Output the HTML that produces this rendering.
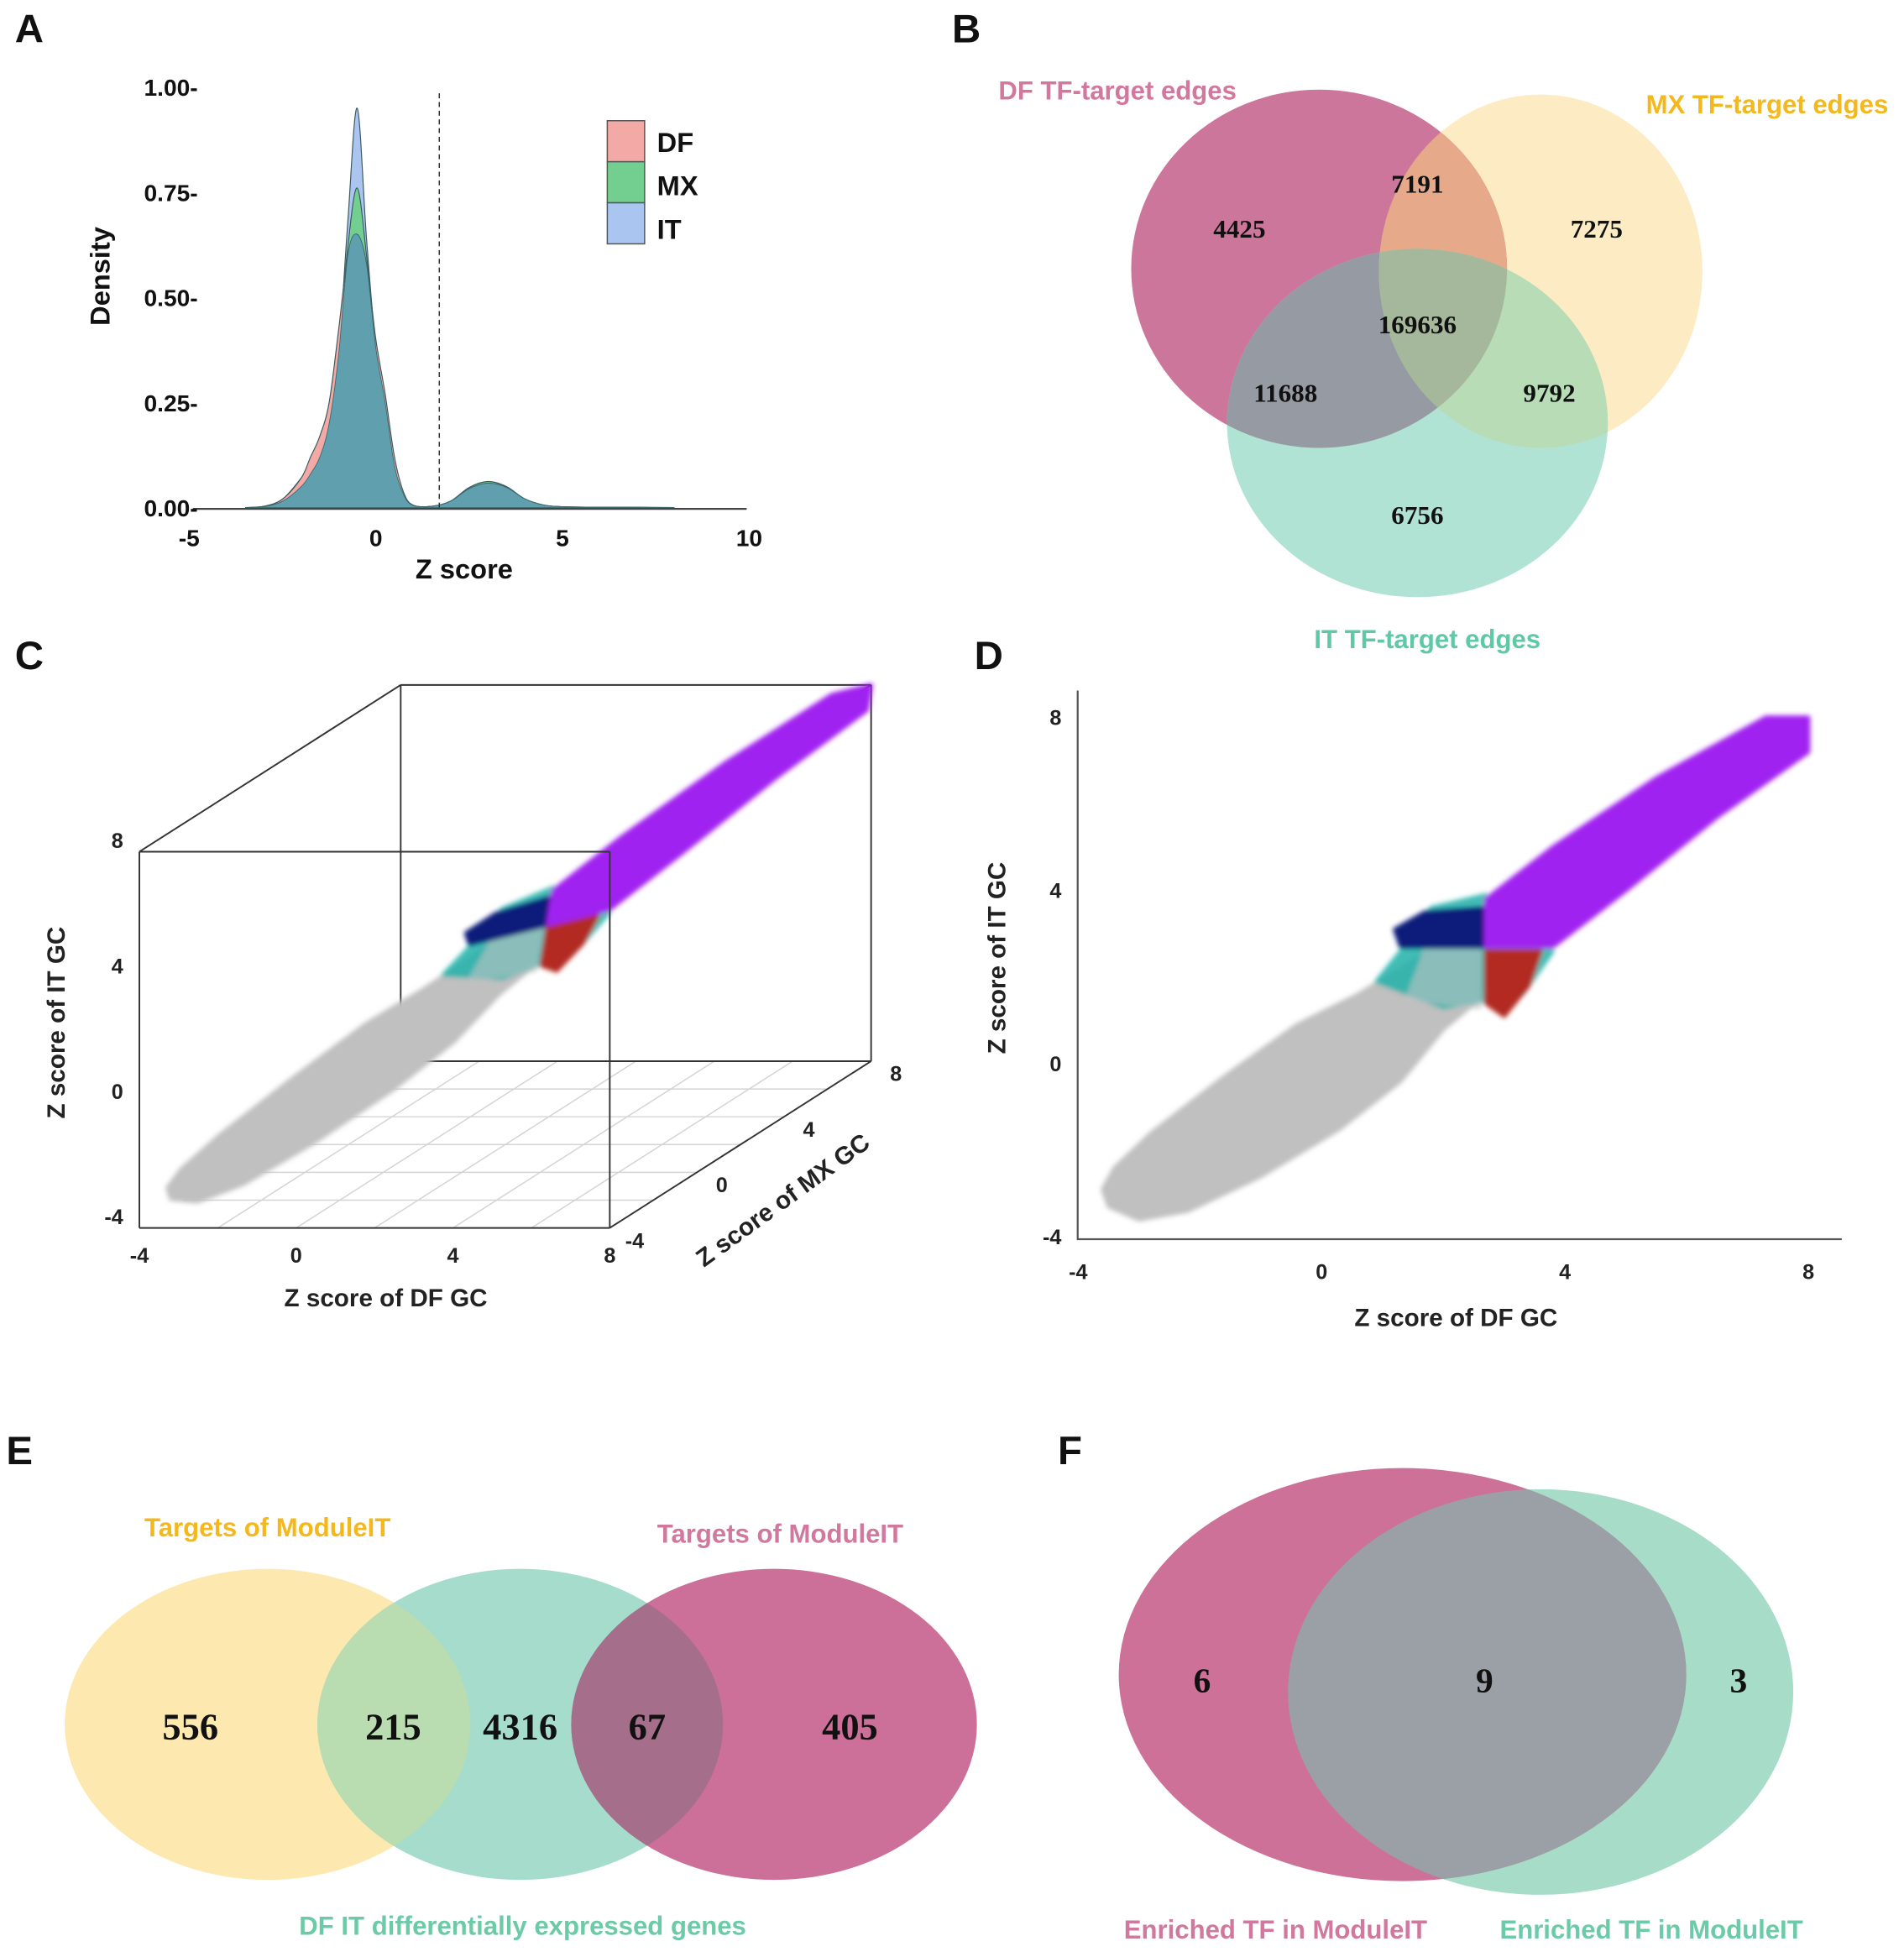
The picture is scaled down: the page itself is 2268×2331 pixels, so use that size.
<!DOCTYPE html>
<html><head><meta charset="utf-8">
<style>
html,body{margin:0;padding:0;background:#fff;}
svg{display:block;}
.lab{font-family:"Liberation Sans",sans-serif;font-weight:bold;}
.num{font-family:"Liberation Serif",serif;font-weight:bold;fill:#111;}
</style></head>
<body>
<svg id="fig" xmlns="http://www.w3.org/2000/svg" width="2268" height="2331" viewBox="0 0 1530 1573" preserveAspectRatio="none">
<defs>
<clipPath id="cDF"><ellipse cx="1060" cy="216" rx="151" ry="144"/></clipPath>
<clipPath id="cMX"><ellipse cx="1238" cy="218" rx="130" ry="142"/></clipPath>
<clipPath id="cIT"><ellipse cx="1139" cy="340" rx="153" ry="140"/></clipPath>
<clipPath id="cEY"><ellipse cx="215" cy="1386" rx="163" ry="125"/></clipPath>
<clipPath id="cET"><ellipse cx="418" cy="1386" rx="163" ry="125"/></clipPath>
<clipPath id="cFT"><ellipse cx="1238" cy="1360" rx="203" ry="163"/></clipPath>
<filter id="fuzz" x="-10%" y="-10%" width="120%" height="120%"><feGaussianBlur stdDeviation="2"/></filter>
</defs>

<g class="lab" font-size="32" fill="#111">
<text x="12" y="34">A</text>
<text x="765" y="34">B</text>
<text x="12" y="538">C</text>
<text x="783" y="538">D</text>
<text x="5" y="1177">E</text>
<text x="850" y="1177">F</text>
</g>

<g id="panelA"></g>

<g>
<ellipse cx="1238" cy="218" rx="130" ry="142" fill="#fdecc3"/>
<ellipse cx="1060" cy="216" rx="151" ry="144" fill="#cd769c"/>
<g clip-path="url(#cDF)"><ellipse cx="1238" cy="218" rx="130" ry="142" fill="#e6a98a"/></g>
<ellipse cx="1139" cy="340" rx="153" ry="140" fill="#b0e3d3"/>
<g clip-path="url(#cIT)"><ellipse cx="1060" cy="216" rx="151" ry="144" fill="#969aa2"/></g>
<g clip-path="url(#cIT)"><ellipse cx="1238" cy="218" rx="130" ry="142" fill="#b7dcb6"/></g>
<g clip-path="url(#cIT)"><g clip-path="url(#cDF)"><ellipse cx="1238" cy="218" rx="130" ry="142" fill="#a6b89b"/></g></g>
<g class="num" font-size="21" text-anchor="middle">
<text x="996" y="191">4425</text>
<text x="1139" y="155">7191</text>
<text x="1283" y="191">7275</text>
<text x="1139" y="268">169636</text>
<text x="1033" y="323">11688</text>
<text x="1245" y="323">9792</text>
<text x="1139" y="421">6756</text>
</g>
<g class="lab" font-size="21" text-anchor="middle">
<text x="898" y="80" fill="#d0789e">DF TF-target edges</text>
<text x="1420" y="91" fill="#f2b81e">MX TF-target edges</text>
<text x="1147" y="521" fill="#5fc8a5">IT TF-target edges</text>
</g>
</g>

<g id="panelC"></g>
<g id="panelD"></g>

<g>
<ellipse cx="215" cy="1386" rx="163" ry="125" fill="#fde8b0"/>
<ellipse cx="418" cy="1386" rx="163" ry="125" fill="#a6dccb"/>
<g clip-path="url(#cEY)"><ellipse cx="418" cy="1386" rx="163" ry="125" fill="#b9dcb0"/></g>
<ellipse cx="622" cy="1386" rx="163" ry="125" fill="#cc7099"/>
<g clip-path="url(#cET)"><ellipse cx="622" cy="1386" rx="163" ry="125" fill="#a56e8a"/></g>
<g class="num" font-size="30" text-anchor="middle">
<text x="153" y="1398">556</text>
<text x="316" y="1398">215</text>
<text x="418" y="1398">4316</text>
<text x="520" y="1398">67</text>
<text x="683" y="1398">405</text>
</g>
<g class="lab" font-size="21" text-anchor="middle">
<text x="215" y="1235" fill="#f5b81c">Targets of ModuleIT</text>
<text x="627" y="1240" fill="#d0789e">Targets of ModuleIT</text>
<text x="420" y="1555" fill="#6ccaa8">DF IT differentially expressed genes</text>
</g>
</g>

<g>
<ellipse cx="1238" cy="1360" rx="203" ry="163" fill="#a7dcc8"/>
<ellipse cx="1127" cy="1346" rx="228" ry="166" fill="#cd7199"/>
<g clip-path="url(#cFT)"><ellipse cx="1127" cy="1346" rx="228" ry="166" fill="#9aa0a5"/></g>
<g class="num" font-size="28" text-anchor="middle">
<text x="966" y="1360">6</text>
<text x="1193" y="1360">9</text>
<text x="1397" y="1360">3</text>
</g>
<g class="lab" font-size="21" text-anchor="middle">
<text x="1025" y="1558" fill="#d0789e">Enriched TF in ModuleIT</text>
<text x="1327" y="1558" fill="#6ccaa8">Enriched TF in ModuleIT</text>
</g>
</g>
</svg>

<script>
// ---- Panel A data ----
const zGrid = [-3.5,-3,-2.5,-2,-1.75,-1.5,-1.25,-1,-0.75,-0.5,-0.25,0,0.25,0.5,0.75,1,1.5,2,2.5,3,3.5,4,4.5,5,6,7,8];
const densIT = [0,0.002,0.015,0.05,0.08,0.12,0.2,0.36,0.68,0.95,0.64,0.38,0.25,0.1,0.03,0.005,0.003,0.015,0.045,0.058,0.048,0.02,0.006,0.002,0.001,0.0005,0];
const densMX = [0,0.003,0.02,0.07,0.1,0.14,0.22,0.38,0.62,0.76,0.6,0.38,0.25,0.1,0.03,0.005,0.003,0.015,0.048,0.062,0.05,0.02,0.006,0.002,0.001,0.0005,0];
const densDF = [0,0.003,0.02,0.07,0.12,0.17,0.25,0.42,0.6,0.65,0.58,0.4,0.27,0.12,0.035,0.006,0.003,0.015,0.045,0.058,0.048,0.02,0.006,0.002,0.001,0.0005,0];
const xTicksA = [-5,0,5,10];
const yTicksA = [0,0.25,0.5,0.75,1];
const yTickLabA = ["0.00","0.25","0.50","0.75","1.00"];
const cutoffZ = 1.7;
const legendA = ["DF","MX","IT"];

// ---- Panels C/D data (cluster outlines in (DF GC, IT GC) z-score coords) ----
const grayCloudDF = [-3.6,-3.5,-3.0,-2.2,-1.0,0.3,1.3,2.0,2.6,2.8,2.2,1.3,0.6,-0.4,-1.6,-2.8,-3.4];
const grayCloudIT = [-2.9,-3.3,-3.6,-3.4,-2.6,-1.5,-0.4,0.8,1.5,2.6,3.0,2.2,1.6,0.9,-0.3,-1.6,-2.4];
const tealDF = [0.9,2.0,3.3,3.8,3.3,2.7,1.8,1.3];
const tealIT = [1.9,1.3,1.6,2.6,3.3,3.9,3.6,2.6];
const grayPatchDF = [1.4,2.6,2.6,1.7];
const grayPatchIT = [1.5,1.3,2.6,2.6];
const navyDF = [1.3,2.7,2.7,1.7,1.2];
const navyIT = [2.7,2.7,3.6,3.5,3.1];
const redDF = [2.7,3.6,3.4,3.0,2.7];
const redIT = [2.6,2.6,1.8,1.1,1.4];
const purpleDF = [2.7,3.8,5,6.5,8,8,7.3,5.5,3.8,2.7];
const purpleIT = [2.7,2.7,4,5.7,7.2,8,8,6.6,5,3.8];
const axisTicks = [-4,0,4,8];

const NS = "http://www.w3.org/2000/svg";
function mk(parent, tag, attrs){ const e=document.createElementNS(NS,tag); for(const k in attrs) e.setAttribute(k,attrs[k]); parent.appendChild(e); return e; }
function smooth(pts){ // catmull-rom
  let d="M"+pts[0][0].toFixed(1)+","+pts[0][1].toFixed(1);
  for(let i=0;i<pts.length-1;i++){
    const p0=pts[Math.max(0,i-1)],p1=pts[i],p2=pts[i+1],p3=pts[Math.min(pts.length-1,i+2)];
    const c1=[p1[0]+(p2[0]-p0[0])/6,p1[1]+(p2[1]-p0[1])/6], c2=[p2[0]-(p3[0]-p1[0])/6,p2[1]-(p3[1]-p1[1])/6];
    d+=" C"+c1[0].toFixed(1)+","+c1[1].toFixed(1)+" "+c2[0].toFixed(1)+","+c2[1].toFixed(1)+" "+p2[0].toFixed(1)+","+p2[1].toFixed(1);
  }
  return d;
}

(function(){
  const g=document.getElementById('panelA');
  const X=z=>152+(z+5)*30, Y=d=>408-d*338;
  const area=vals=>smooth(zGrid.map((z,i)=>[X(z),Math.min(408,Y(vals[i]))]))+" L"+X(zGrid[zGrid.length-1])+","+Y(0)+" L"+X(zGrid[0])+","+Y(0)+" Z";
  const series=[[densIT,"#a9c5f0","density-it"],[densMX,"#72cf8f","density-mx"],[densDF,"#f3aaa6","density-df"]];
  series.forEach(s=>{
    const p=mk(g,'path',{d:area(s[0]),fill:s[1],stroke:"#3c5a60","stroke-width":0.8});
    
    
  });
  const mins=zGrid.map((z,i)=>Math.min(densIT[i],densMX[i],densDF[i]));
  const core=mk(g,'path',{d:area(mins),fill:"#5f9fae",stroke:"#3c6a70","stroke-width":0.6});
  
  
  const ax=mk(g,'line',{x1:155,y1:409,x2:600,y2:409,stroke:"#444","stroke-width":1.5});
  
  
  const cut=mk(g,'line',{x1:X(cutoffZ),y1:75,x2:X(cutoffZ),y2:408,stroke:"#333","stroke-width":1,"stroke-dasharray":"4,3"});
  
  
  xTicksA.forEach(t=>{
    const tx=mk(g,'text',{x:X(t),y:439,"text-anchor":"middle","font-size":19,class:"lab",fill:"#111"});
    tx.textContent=t;
    
    
  });
  yTicksA.forEach((t,i)=>{
    const tx=mk(g,'text',{x:159,y:Y(t)+7,"text-anchor":"end","font-size":19,class:"lab",fill:"#111"});
    tx.textContent=yTickLabA[i]+"-";
    
    
  });
  const xt=mk(g,'text',{x:373,y:465,"text-anchor":"middle","font-size":22,class:"lab",fill:"#111"});
  xt.textContent="Z score";
  
  
  const yt=mk(g,'text',{x:0,y:0,"text-anchor":"middle","font-size":22,class:"lab",fill:"#111",transform:"translate(88,222) rotate(-90)"});
  yt.textContent="Density";
  
  
  const cols=["#f3aaa6","#72cf8f","#a9c5f0"];
  legendA.forEach((l,i)=>{
    const r=mk(g,'rect',{x:488,y:97+i*33,width:30,height:33,fill:cols[i],stroke:"#555","stroke-width":1});
    
    
    const t=mk(g,'text',{x:528,y:122+i*35,"font-size":22,class:"lab",fill:"#111"});
    t.textContent=l;
    
    
  });
})();

function clusters(g, P, name){
  const list=[[grayCloudDF,grayCloudIT,"#c0c0c0","gray-cloud",1],[tealDF,tealIT,"#20b2aa","teal-cluster",0.85],[grayPatchDF,grayPatchIT,"#c4c4c4","gray-patch",0.6],[navyDF,navyIT,"#0b1c7a","navy-cluster",1],[redDF,redIT,"#b22a22","red-cluster",1],[purpleDF,purpleIT,"#a020f0","purple-cluster",1]];
  const fg=mk(g,'g',{filter:"url(#fuzz)"});
  list.forEach(c=>{
    const pts=c[0].map((x,i)=>P(x,c[1][i]).map(v=>v.toFixed(1)).join(",")).join(" ");
    const p=mk(fg,'polygon',{points:pts,fill:c[2],stroke:c[2],"stroke-width":3,"stroke-linejoin":"round",opacity:c[4]});
    
    
  });
}

(function(){
  const g=document.getElementById('panelD');
  const X=v=>1062+v*48.9, Y=v=>855-v*34.8;
  clusters(g,(a,b)=>[X(a),Y(b)],'d');
  const a1=mk(g,'path',{d:"M866,555 L866,996 L1480,996",fill:"none",stroke:"#555","stroke-width":1.5});
  
  
  axisTicks.forEach(t=>{
    const tx=mk(g,'text',{x:X(t),y:1028,"text-anchor":"middle","font-size":17,class:"lab",fill:"#222","font-weight":"normal"});
    tx.textContent=t;
    
    
    const ty=mk(g,'text',{x:853,y:Y(t)+6,"text-anchor":"end","font-size":17,class:"lab",fill:"#222","font-weight":"normal"});
    ty.textContent=t;
    
    
  });
  const xt=mk(g,'text',{x:1170,y:1066,"text-anchor":"middle","font-size":20,class:"lab",fill:"#222"});
  xt.textContent="Z score of DF GC";
  
  
  const yt=mk(g,'text',{x:0,y:0,"text-anchor":"middle","font-size":20,class:"lab",fill:"#222",transform:"translate(808,770) rotate(-90)"});
  yt.textContent="Z score of IT GC";
  
  
})();

(function(){
  const g=document.getElementById('panelC');
  const P=(x,y,z)=>[112+(x+4)*31.5+(y+4)*17.5, 987-(y+4)*11.17-(z+4)*25.2];
  for(let v=-2; v<=6; v+=2){
    const a=P(v,-4,-4), b=P(v,8,-4), c=P(-4,v,-4), d=P(8,v,-4);
    const l1=mk(g,'line',{x1:a[0],y1:a[1],x2:b[0],y2:b[1],stroke:"#d4d4d4","stroke-width":1});
    
    
    const l2=mk(g,'line',{x1:c[0],y1:c[1],x2:d[0],y2:d[1],stroke:"#d4d4d4","stroke-width":1});
    
    
  }
  const E=[[[-4,8,-4],[-4,8,8]],[[8,8,-4],[8,8,8]],[[-4,8,8],[8,8,8]],[[-4,-4,8],[-4,8,8]],[[8,-4,8],[8,8,8]],[[-4,8,-4],[8,8,-4]],[[8,-4,-4],[8,8,-4]]];
  E.forEach(e=>{const a=P(...e[0]),b=P(...e[1]);
    const l=mk(g,'line',{x1:a[0],y1:a[1],x2:b[0],y2:b[1],stroke:"#333","stroke-width":1.3});
    
    
  });
  clusters(g,(a,b)=>{const p=P(a,a,b); return [p[0]+(b-a)*4, p[1]];},'c');
  const F=[[[-4,-4,-4],[8,-4,-4]],[[-4,-4,-4],[-4,-4,8]],[[8,-4,-4],[8,-4,8]],[[-4,-4,8],[8,-4,8]]];
  F.forEach(e=>{const a=P(...e[0]),b=P(...e[1]);
    const l=mk(g,'line',{x1:a[0],y1:a[1],x2:b[0],y2:b[1],stroke:"#333","stroke-width":1.3});
    
    
  });
  axisTicks.forEach(t=>{
    const px=P(t,-4,-4), pz=P(-4,-4,t), py=P(8,t,-4);
    const tx=mk(g,'text',{x:px[0],y:px[1]+28,"text-anchor":"middle","font-size":17,class:"lab",fill:"#222","font-weight":"normal"});
    tx.textContent=t;
    
    
    const tz=mk(g,'text',{x:pz[0]-13,y:pz[1]-3,"text-anchor":"end","font-size":17,class:"lab",fill:"#222","font-weight":"normal"});
    tz.textContent=t;
    
    
    const ty=mk(g,'text',{x:py[0]+20,y:py[1]+16,"text-anchor":"middle","font-size":17,class:"lab",fill:"#222","font-weight":"normal"});
    ty.textContent=t;
    
    
  });
  const xt=mk(g,'text',{x:310,y:1050,"text-anchor":"middle","font-size":20,class:"lab",fill:"#222"});
  xt.textContent="Z score of DF GC";
  
  
  const zt=mk(g,'text',{x:0,y:0,"text-anchor":"middle","font-size":20,class:"lab",fill:"#222",transform:"translate(52,822) rotate(-90)"});
  zt.textContent="Z score of IT GC";
  
  
  const yt=mk(g,'text',{x:0,y:0,"text-anchor":"middle","font-size":20,class:"lab",fill:"#222",transform:"translate(633,970) rotate(-36)"});
  yt.textContent="Z score of MX GC";
  
  
})();
</script>
</body></html>
